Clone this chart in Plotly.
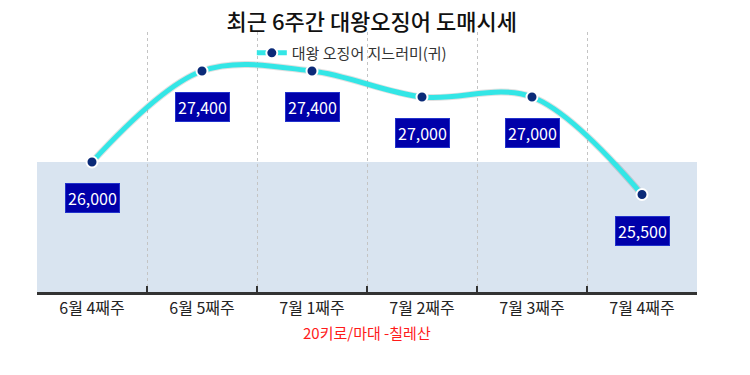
import plotly.graph_objects as go

categories = ["6월 4째주", "6월 5째주", "7월 1째주", "7월 2째주", "7월 3째주", "7월 4째주"]
prices = [26000, 27400, 27400, 27000, 27000, 25500]
series_name = "대왕 오징어 지느러미(귀)"
title_text = "최근 6주간 대왕오징어 도매시세"
subtitle_text = "20키로/마대 -칠레산"
band_low, band_high = 24000, 26000

FONT = "Noto Sans CJK KR, Noto Sans, sans-serif"

fig = go.Figure()

# shaded band
fig.add_shape(type="rect", xref="paper", yref="y", x0=0, x1=1, y0=band_low, y1=band_high,
              fillcolor="#d9e4f0", line_width=0, layer="below")

# shadow of line
fig.add_trace(go.Scatter(x=categories, y=prices, mode="lines",
                         line=dict(color="rgba(0,0,0,0.12)", width=7, shape="spline", smoothing=1.0),
                         showlegend=False, hoverinfo="skip"))

fig.add_trace(go.Scatter(
    x=categories, y=prices, mode="lines+markers", name=series_name,
    line=dict(color="#33e6e6", width=5, shape="spline", smoothing=1.0),
    marker=dict(color="#0b2a78", size=11, line=dict(color="white", width=2)),
))

for c, p in zip(categories, prices):
    fig.add_annotation(x=c, y=p, xref="x", yref="y", text=f"{p:,}", showarrow=False,
                       yshift=-36, bgcolor="#0000aa", bordercolor="#2233cc", borderwidth=1,
                       borderpad=2, font=dict(color="white", size=16, family=FONT))

fig.add_annotation(x=0.5, y=-0.154, xref="paper", yref="paper", text=subtitle_text,
                   showarrow=False, yanchor="middle",
                   font=dict(color="#ff1a1a", size=15, family=FONT))

fig.update_layout(
    width=750, height=375,
    margin=dict(l=29, r=61, t=24, b=91, autoexpand=False),
    paper_bgcolor="white", plot_bgcolor="white",
    title=dict(text=title_text, x=0.485, xanchor="center", y=0.962, yanchor="middle",
               font=dict(size=22, color="#111111", family=FONT, weight=500)),
    legend=dict(orientation="h", x=0.477, xanchor="center", y=0.919, yanchor="middle",
                font=dict(size=15, color="#333333", family=FONT), bgcolor="rgba(0,0,0,0)"),
    xaxis=dict(range=[-0.5, 5.5], tickson="boundaries", ticks="inside", ticklen=6,
               tickcolor="#333333", tickwidth=2, showline=True, linecolor="#333333", linewidth=3,
               showgrid=True, gridcolor="#c4c4c4", griddash="dot", gridwidth=1,
               tickfont=dict(size=16, color="#222222", family=FONT), fixedrange=True),
    yaxis=dict(range=[24000, 28000], showgrid=False, showticklabels=False, zeroline=False,
               showline=False, fixedrange=True),
    showlegend=True,
)

fig.write_html("out.html")
